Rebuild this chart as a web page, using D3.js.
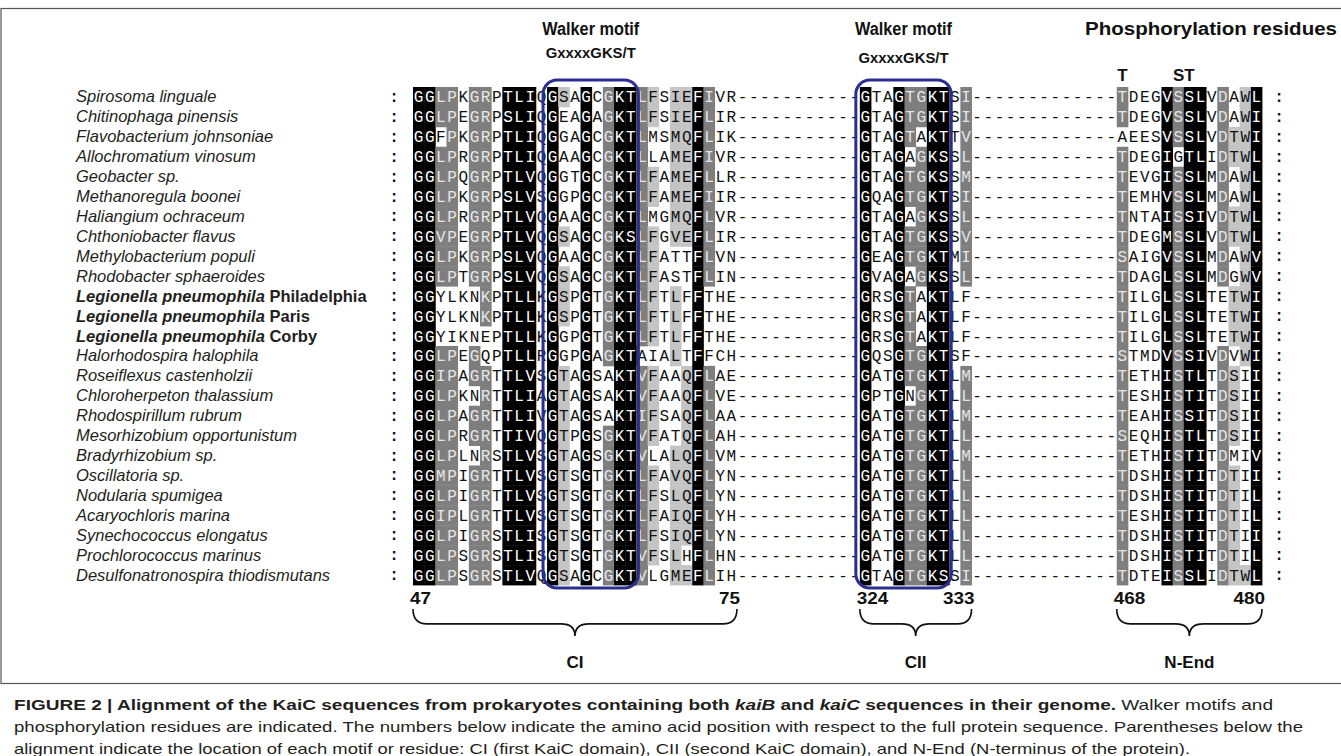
<!DOCTYPE html>
<html><head><meta charset="utf-8">
<script src="https://cdn.jsdelivr.net/npm/d3@7"></script>
<style>
html,body{margin:0;padding:0;background:#fff;}
svg{display:block;}
</style></head><body>
<svg id="chart" width="1341" height="756"></svg>
<script>
// ---------------- DATA ----------------
const speciesNames = [
  "Spirosoma linguale","Chitinophaga pinensis","Flavobacterium johnsoniae","Allochromatium vinosum",
  "Geobacter sp.","Methanoregula boonei","Haliangium ochraceum","Chthoniobacter flavus",
  "Methylobacterium populi","Rhodobacter sphaeroides","Legionella pneumophila","Legionella pneumophila",
  "Legionella pneumophila","Halorhodospira halophila","Roseiflexus castenholzii","Chloroherpeton thalassium",
  "Rhodospirillum rubrum","Mesorhizobium opportunistum","Bradyrhizobium sp.","Oscillatoria sp.",
  "Nodularia spumigea","Acaryochloris marina","Synechococcus elongatus","Prochlorococcus marinus",
  "Desulfonatronospira thiodismutans"
];
const strainNames = ["","","","","","","","","","","Philadelphia","Paris","Corby","","","","","","","","","","","",""];

// CI region, residues 47-75
const segCI = [
  "GGLPKGRPTLIQGSAGCGKTLFSIEFIVR","GGLPEGRPSLIQGEAGAGKTLFSIEFLIR","GGFPKGRPTLIQGGAGCGKTLMSMQFLIK",
  "GGLPRGRPTLIQGAAGCGKTLLAMEFIVR","GGLPQGRPTLVQGGTGCGKTLFAMEFLLR","GGLPKGRPSLVSGGPGCGKTLFAMEFIIR",
  "GGLPRGRPTLVQGAAGCGKTLMGMQFLVR","GGVPEGRPTLVQGSAGCGKSLFGVEFLIR","GGLPKGRPSLVQGAAGCGKTLFATTFLVN",
  "GGLPTGRPSLVQGSAGCGKTLFASTFLIN","GGYLKNKPTLLKGSPGTGKTLFTLFFTHE","GGYLKNKPTLLKGSPGTGKTLFTLFFTHE",
  "GGYIKNEPTLLKGGPGTGKTLFTLFFTHE","GGLPEGQPTLLRGGPGAGKTAIALTFFCH","GGIPAGRTTLVSGTAGSAKTVFAAQFLAE",
  "GGLPKNRTTLIAGTAGSAKTVFAAQFLVE","GGLPAGRTTLIVGTAGSAKTIFSAQFLAA","GGLPRGRTTIVQGTPGSGKTVFATQFLAH",
  "GGLPLNRSTLVSGTAGSGKTVLALQFLVM","GGMPIGRTTLVSGTSGTGKTLFAVQFLYN","GGLPIGRTTLVSGTSGTGKTLFSLQFLYN",
  "GGIPLGRTTLVSGTSGTGKTLFAIQFLYH","GGLPIGRSTLISGTSGTGKTLFSIQFLYN","GGLPSGRSTLISGTSGTGKTVFSLHFLHN",
  "GGLPSGRSTLVQGSAGCGKTVLGMEFLIH"
];
// CII region, residues 324-333
const segCII = [
  "GTAGTGKTSI","GTAGTGKTSI","GTAGTAKTTV","GTAGAGKSSL","GTAGTGKSSM","GQAGTGKTSI","GTAGAGKSSL",
  "GTAGTGKSSV","GEAGTGKTMI","GVAGAGKSSL","GRSGTAKTLF","GRSGTAKTLF","GRSGTAKTLF","GQSGTGKTSF",
  "GATGTGKTLM","GPTGNGKTLL","GATGTGKTLM","GATGTGKTLL","GATGTGKTLM","GATGTGKTLL","GATGTGKTLL",
  "GATGTGKTLL","GATGTGKTLL","GATGTGKTLL","GTAGTGKSSI"
];
// N-End region, residues 468-480
const segNEnd = [
  "TDEGVSSLVDAWL","TDEGVSSLVDAWI","AEESVSSLVDTWI","TDEGIGTLIDTWL","TEVGISSLMDAWL","TEMHVSSLMDAWL",
  "TNTAISSIVDTWL","TDEGMSSLVDTWL","SAIGVSSLMDAWV","TDAGLSSLMDGWV","TILGLSSLTETWI","TILGLSSLTETWI",
  "TILGLSSLTETWI","STMDVSSIVDVWI","TETHISTLTDSII","TESHISTITDSII","TEAHISSITDSII","SEQHISTLTDSII",
  "TETHISTITDMIV","TDSHISTITDTII","TDSHISTITDTIL","TESHISTITDTIL","TDSHISTITDTII","TDSHISTITDTIL",
  "TDTEISSLIDTWL"
];
const gapAfterCI  = "-----------";     // 11 gap columns
const gapAfterCII = "-------------";   // 13 gap columns

const regionNames  = ["CI","CII","N-End"];
const regionStart  = [47, 324, 468];
const regionEnd    = [75, 333, 480];

const motifTitles  = ["Walker motif","Walker motif"];
const motifPattern = ["GxxxxGKS/T","GxxxxGKS/T"];
const motifFirstCol = [12, 40];   // alignment columns framed by the motif boxes
const motifLastCol  = [19, 47];
const phosphoTitle = "Phosphorylation residues";
const phosphoMarks = [{label:"T", cols:[63]}, {label:"ST", cols:[68,69]}];

const similarityGroups = ["DN","EQ","ST","KR","FYW","LIVM"];

// ---------------- BUILD ----------------
const rows = speciesNames.map((n,i)=> segCI[i] + gapAfterCI + segCII[i] + gapAfterCII + segNEnd[i]);
const nCols = rows[0].length;
const nRows = rows.length;
const regionCols = [
  [0, segCI[0].length-1],
  [segCI[0].length + gapAfterCI.length, segCI[0].length + gapAfterCI.length + segCII[0].length - 1],
  [nCols - segNEnd[0].length, nCols-1]
];

const groupOf = ch => { const g = similarityGroups.find(s=>s.includes(ch)); return g || ch; };

// conservation level per cell
const levels = rows.map(r=>new Array(nCols).fill(0));
for (let c=0;c<nCols;c++){
  const col = rows.map(r=>r[c]);
  if (col.every(ch=>ch==="-")) continue;
  const counts = {};
  col.forEach(ch=>{ if(ch!=="-"){ const g=groupOf(ch); counts[g]=(counts[g]||0)+1; }});
  let best=null,bc=0;
  for (const g in counts){ if(counts[g]>bc){bc=counts[g];best=g;} }
  const frac = bc/nRows;
  const lv = frac>=1 ? 3 : frac>=0.8 ? 2 : frac>=0.6 ? 1 : 0;
  col.forEach((ch,r)=>{ if(ch!=="-" && groupOf(ch)===best) levels[r][c]=lv; });
}

const bgColor  = ["#ffffff","#c4c4c4","#7e7e7e","#000000"];
const txtColor = ["#111111","#111111","#e6e6e6","#ffffff"];

const svg = d3.select("#chart");
const W=1341,H=756;

// frame
svg.append("rect").attr("x",1).attr("y",8.5).attr("width",W+4).attr("height",675)
  .attr("fill","none").attr("stroke","#555").attr("stroke-width",1.2);

const x = d3.scaleLinear().domain([0,nCols]).range([413, 1262]);
const y = d3.scaleBand().domain(d3.range(nRows)).range([87, 585]).padding(0);
const cw = x(1)-x(0), bh = y.bandwidth();

// cells
const cells = [];
rows.forEach((r,ri)=>{ for(let c=0;c<nCols;c++) cells.push({r:ri,c,ch:r[c],lv:levels[ri][c]}); });

svg.append("g").selectAll("rect").data(cells.filter(d=>d.lv>0)).join("rect")
  .attr("x",d=>x(d.c)).attr("y",d=>y(d.r))
  .attr("width",cw+0.4).attr("height",bh+0.4)
  .attr("fill",d=>bgColor[d.lv]);

svg.append("g").attr("font-family","'Liberation Mono','DejaVu Sans Mono',monospace")
  .attr("font-size",16).attr("text-anchor","middle")
  .selectAll("text").data(cells).join("text")
  .attr("x",d=>x(d.c)+cw/2).attr("y",d=>y(d.r)+bh/2+5.5)
  .attr("fill",d=>txtColor[d.lv])
  .text(d=>d.ch);

// colons
const colonG = svg.append("g").attr("font-family","'Liberation Mono',monospace").attr("font-size",16)
  .attr("font-weight","bold").attr("fill","#111").attr("text-anchor","middle");
colonG.selectAll("text.l").data(d3.range(nRows)).join("text").attr("class","l")
  .attr("x",x(0)-19).attr("y",d=>y(d)+bh/2+5).text(":");
colonG.selectAll("text.r").data(d3.range(nRows)).join("text").attr("class","r")
  .attr("x",x(nCols)+17).attr("y",d=>y(d)+bh/2+5).text(":");

// species labels
const lab = svg.append("g").attr("font-family","'Liberation Sans',Arial,sans-serif").attr("font-size",16.5).attr("fill","#231f20");
speciesNames.forEach((n,i)=>{
  const t = lab.append("text").attr("x",76).attr("y",y(i)+bh/2+5.5);
  if (strainNames[i]) {
    t.append("tspan").attr("font-style","italic").attr("font-weight","bold").text(n);
    t.append("tspan").attr("font-weight","bold").text(" "+strainNames[i]);
  } else {
    t.append("tspan").attr("font-style","italic").text(n);
  }
});

// motif boxes
motifFirstCol.forEach((c0,i)=>{
  const x0 = x(c0)-4, x1 = x(motifLastCol[i]+1)+2;
  svg.append("rect").attr("x",x0).attr("y",80).attr("width",x1-x0).attr("height",508)
    .attr("rx",14).attr("ry",14).attr("fill","none").attr("stroke","#2b2e8f").attr("stroke-width",3);
  const cx = (x0+x1)/2;
  svg.append("text").attr("x",cx).attr("y",35).attr("text-anchor","middle")
    .attr("font-family","'Liberation Sans',Arial,sans-serif").attr("font-weight","bold").attr("font-size",18)
    .attr("textLength",97).attr("lengthAdjust","spacingAndGlyphs").attr("fill","#111").text(motifTitles[i]);
  svg.append("text").attr("x",cx).attr("y",i===0?58:63).attr("text-anchor","middle")
    .attr("font-family","'Liberation Sans',Arial,sans-serif").attr("font-weight","bold").attr("font-size",15)
    .attr("textLength",90).attr("lengthAdjust","spacingAndGlyphs").attr("fill","#111").text(motifPattern[i]);
});

// phosphorylation header
svg.append("text").attr("x",1211).attr("y",35).attr("text-anchor","middle")
  .attr("font-family","'Liberation Sans',Arial,sans-serif").attr("font-weight","bold").attr("font-size",18)
  .attr("textLength",252).attr("lengthAdjust","spacingAndGlyphs").attr("fill","#111").text(phosphoTitle);
phosphoMarks.forEach(m=>{
  const cx = d3.mean(m.cols, c=>x(c)+cw/2);
  svg.append("text").attr("x",cx).attr("y",81).attr("text-anchor","middle")
    .attr("font-family","'Liberation Sans',Arial,sans-serif").attr("font-weight","bold").attr("font-size",17)
    .attr("fill","#111").text(m.label);
});

// residue numbers, braces, region labels
const bracePath = (x0,x1,y0,h)=>{
  const xm=(x0+x1)/2, r=Math.min(14,(x1-x0)/4), ym=y0+h*0.55;
  return `M${x0},${y0} Q${x0},${ym} ${x0+r},${ym} L${xm-r},${ym} Q${xm},${ym} ${xm},${y0+h} Q${xm},${ym} ${xm+r},${ym} L${x1-r},${ym} Q${x1},${ym} ${x1},${y0}`;
};
regionNames.forEach((nm,i)=>{
  const [c0,c1] = regionCols[i];
  const xs = x(c0), xe = x(c1+1);
  const f = {"font-family":"'Liberation Sans',Arial,sans-serif","font-weight":"bold","font-size":17,"fill":"#111"};
  const s1 = svg.append("text").attr("x",xs-3).attr("y",604).attr("text-anchor","start").text(regionStart[i]);
  const s2 = svg.append("text").attr("x",xe+3).attr("y",604).attr("text-anchor","end").text(regionEnd[i]);
  [s1,s2].forEach(s=>{ for(const k in f) s.attr(k,f[k]); s.attr("textLength", String(s.text()).length*10.5).attr("lengthAdjust","spacingAndGlyphs"); });
  svg.append("path").attr("d",bracePath(xs,xe,609,27)).attr("fill","none").attr("stroke","#111").attr("stroke-width",1.6);
  const t = svg.append("text").attr("x",(xs+xe)/2).attr("y",668).attr("text-anchor","middle").text(nm);
  for(const k in f) t.attr(k,f[k]);
});

// caption
const cap = svg.append("g").attr("font-family","'Liberation Sans',Arial,sans-serif").attr("font-size",14.5).attr("fill","#231f20");
const l1 = cap.append("text").attr("x",14).attr("y",710).attr("textLength",1259).attr("lengthAdjust","spacingAndGlyphs");
l1.append("tspan").attr("font-weight","bold").text("FIGURE 2 | Alignment of the KaiC sequences from prokaryotes containing both ");
l1.append("tspan").attr("font-weight","bold").attr("font-style","italic").text("kaiB");
l1.append("tspan").attr("font-weight","bold").text(" and ");
l1.append("tspan").attr("font-weight","bold").attr("font-style","italic").text("kaiC");
l1.append("tspan").attr("font-weight","bold").text(" sequences in their genome.");
l1.append("tspan").text(" Walker motifs and");
cap.append("text").attr("x",14).attr("y",732).attr("textLength",1289).attr("lengthAdjust","spacingAndGlyphs")
  .text("phosphorylation residues are indicated. The numbers below indicate the amino acid position with respect to the full protein sequence. Parentheses below the");
cap.append("text").attr("x",14).attr("y",754).attr("textLength",1176).attr("lengthAdjust","spacingAndGlyphs")
  .text("alignment indicate the location of each motif or residue: CI (first KaiC domain), CII (second KaiC domain), and N-End (N-terminus of the protein).");
</script>
</body></html>
